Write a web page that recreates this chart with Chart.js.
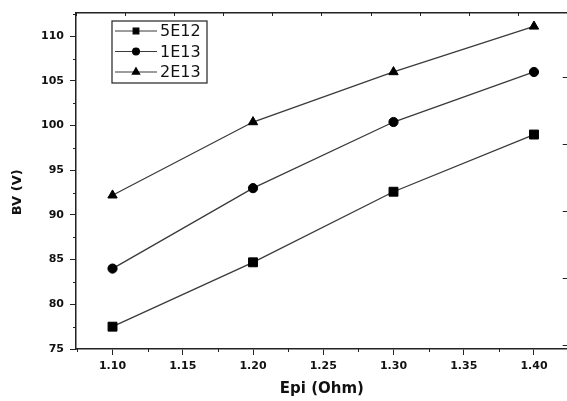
<!DOCTYPE html>
<html>
<head>
<meta charset="utf-8">
<title>BV vs Epi</title>
<script src="https://cdn.jsdelivr.net/npm/chart.js@4.4.0/dist/chart.umd.min.js"></script>
<style>
  html, body { margin: 0; padding: 0; background: #fff; overflow: hidden; }
  #bvChart { display: block; }
</style>
</head>
<body>
<canvas id="bvChart" width="575" height="401"></canvas>
<script>
// Data
var epi = [1.10, 1.20, 1.30, 1.40];
var seriesNames = ["5E12", "1E13", "2E13"];
var bv5e12 = [77.5, 84.7, 92.6, 99.0];
var bv1e13 = [84.0, 93.0, 100.4, 106.0];
var bv2e13 = [92.2, 100.4, 106.0, 111.1];
var markers = ["rect", "circle", "triangle"];

// Axis ranges
var xMin = 1.074, xMax = 1.424, xStep = 0.05;
var yMin = 75, yMax = 112.6, yStep = 5;

Chart.defaults.font.family = "'DejaVu Sans', Arial, sans-serif";
Chart.defaults.color = "#111";

function toPoints(ys) {
    return epi.map(function (x, i) { return { x: x, y: ys[i] }; });
}

function makeDataset(label, ys, style, radius) {
    return {
        label: label,
        data: toPoints(ys),
        showLine: true,
        borderColor: "#3a3a3a",
        borderWidth: 1.3,
        pointStyle: style,
        pointRadius: radius,
        pointBackgroundColor: "#000",
        pointBorderColor: "#000",
        pointBorderWidth: 1,
        clip: false
    };
}

// ticks at round multiples of the step (not counted from min)
function roundTicks(step) {
    return function (scale) {
        var out = [];
        for (var k = Math.ceil(scale.min / step - 1e-9); k * step <= scale.max + 1e-9; k++) {
            out.push({ value: Math.round(k * step * 1000) / 1000 });
        }
        scale.ticks = out;
    };
}

// minor ticks (outward, shorter) on the bottom and left axes
var minorTicks = {
    id: "minorTicks",
    afterDraw: function (chart, args, opts) {
        var ctx = chart.ctx;
        var xs = chart.scales.x, ys = chart.scales.y;
        ctx.save();
        ctx.strokeStyle = "#222";
        ctx.lineWidth = 1;
        ctx.beginPath();
        var k, px;
        for (k = Math.ceil(xs.min / opts.xStep); k * opts.xStep <= xs.max; k++) {
            if (k % 2 === 0) continue;
            px = Math.round(xs.getPixelForValue(k * opts.xStep)) + 0.5;
            ctx.moveTo(px, xs.top);
            ctx.lineTo(px, xs.top + opts.len);
        }
        for (k = Math.ceil(ys.min / opts.yStep); k * opts.yStep <= ys.max; k++) {
            if (k % 2 === 0) continue;
            px = Math.round(ys.getPixelForValue(k * opts.yStep)) + 0.5;
            ctx.moveTo(ys.right, px);
            ctx.lineTo(ys.right - opts.len, px);
        }
        ctx.stroke();
        ctx.restore();
    }
};

// legend drawn inside a box in the plot area
var boxLegend = {
    id: "boxLegend",
    afterDraw: function (chart, args, opts) {
        var ctx = chart.ctx;
        var area = chart.chartArea;
        var x0 = area.left + opts.dx, y0 = area.top + opts.dy;
        ctx.save();
        ctx.strokeStyle = "#222";
        ctx.lineWidth = 1.2;
        ctx.strokeRect(x0, y0, opts.width, opts.height);
        ctx.font = opts.font;
        ctx.fillStyle = "#111";
        ctx.textBaseline = "middle";
        chart.data.datasets.forEach(function (ds, i) {
            var cy = y0 + opts.firstRow + i * opts.rowGap;
            ctx.strokeStyle = ds.borderColor;
            ctx.lineWidth = 1.2;
            ctx.beginPath();
            ctx.moveTo(x0 + 3, cy);
            ctx.lineTo(x0 + 3 + opts.lineLen, cy);
            ctx.stroke();
            ctx.fillStyle = "#000";
            ctx.strokeStyle = "#000";
            Chart.helpers.drawPoint(ctx, {
                pointStyle: ds.pointStyle,
                radius: opts.markerRadius[i],
                rotation: 0,
                borderWidth: 1
            }, x0 + 3 + opts.lineLen / 2, cy);
            ctx.fillStyle = "#111";
            ctx.fillText(ds.label, x0 + opts.lineLen + 6, cy + 1);
        });
        ctx.restore();
    }
};

var ctx = document.getElementById("bvChart");
var bvChart = new Chart(ctx, {
    type: "scatter",
    data: {
        datasets: [
            makeDataset(seriesNames[0], bv5e12, markers[0], 6.3),
            makeDataset(seriesNames[1], bv1e13, markers[1], 4.6),
            makeDataset(seriesNames[2], bv2e13, markers[2], 5.4)
        ]
    },
    options: {
        responsive: false,
        animation: false,
        layout: { padding: { left: 0, right: 2, top: 13, bottom: 0 } },
        plugins: {
            legend: { display: false },
            tooltip: { enabled: false },
            minorTicks: { xStep: xStep / 2, yStep: yStep / 2, len: 3 },
            boxLegend: {
                dx: 36, dy: 8, width: 95, height: 62,
                firstRow: 10, rowGap: 20.5, lineLen: 42,
                markerRadius: [4, 3.4, 4.2],
                font: "16px 'DejaVu Sans', Arial, sans-serif"
            }
        },
        scales: {
            x: {
                type: "linear",
                position: "bottom",
                min: xMin,
                max: xMax,
                afterBuildTicks: roundTicks(xStep),
                afterFit: function (scale) { scale.height = 52; },
                border: { display: true, color: "#222", width: 1.5 },
                grid: { display: true, drawOnChartArea: false, drawTicks: true, tickLength: 6, color: "#222" },
                ticks: {
                    padding: 5,
                    font: { size: 11, weight: "bold" },
                    callback: function (v) { return Number(v).toFixed(2); }
                },
                title: {
                    display: true,
                    text: "Epi (Ohm)",
                    font: { size: 15, weight: "bold" },
                    padding: { top: 0, bottom: 3 }
                }
            },
            x2: {
                type: "linear",
                position: "top",
                min: -1,
                max: 9,
                afterFit: function (scale) { scale.height = 0; },
                border: { display: true, color: "#222", width: 1.5 },
                grid: { display: true, drawOnChartArea: false, drawTicks: true, tickLength: -3, color: "#222" },
                ticks: { display: false, stepSize: 1, includeBounds: false }
            },
            y: {
                type: "linear",
                position: "left",
                min: yMin,
                max: yMax,
                afterBuildTicks: roundTicks(yStep),
                afterFit: function (scale) { scale.width = 76; },
                border: { display: true, color: "#222", width: 1.5 },
                grid: { display: true, drawOnChartArea: false, drawTicks: true, tickLength: 6, color: "#222" },
                ticks: {
                    padding: 6,
                    font: { size: 11, weight: "bold" }
                },
                title: {
                    display: true,
                    text: "BV (V)\u00a0\u00a0\u00a0\u00a0\u00a0",
                    font: { size: 13, weight: "bold" },
                    padding: { top: 10, bottom: 0 }
                }
            },
            y2: {
                type: "linear",
                position: "right",
                reverse: true,
                min: 0.03,
                max: 5.045,
                afterFit: function (scale) { scale.width = 0; },
                border: { display: true, color: "#222", width: 1.5 },
                grid: { display: true, drawOnChartArea: false, drawTicks: true, tickLength: -5, color: "#222" },
                ticks: { display: false, stepSize: 1, includeBounds: false }
            }
        }
    },
    plugins: [minorTicks, boxLegend]
});
</script>
</body>
</html>
